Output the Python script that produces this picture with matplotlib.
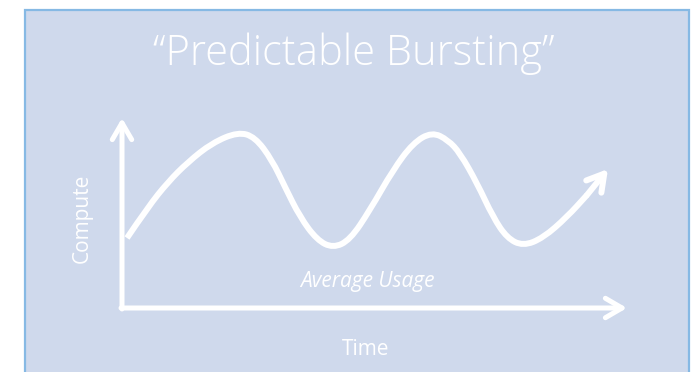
import matplotlib
matplotlib.use("Agg")
import matplotlib.pyplot as plt
from matplotlib.patches import Rectangle, PathPatch
from matplotlib.path import Path

# curve: time vs compute (axis units, origin at the corner)
time = [5, 26, 46, 66, 90, 116, 133, 150, 163, 178, 195, 211, 228, 248, 271,
        291, 310, 326, 338, 355, 371, 385, 401, 421, 445, 465, 486]
compute = [70, 101, 126, 146, 165, 176, 171, 148, 121, 91, 68, 60, 68, 98, 138,
           165, 176, 168, 155, 125, 91, 70, 62, 70, 91, 113, 139]

title = "\u201cPredictable Bursting\u201d"
xlabel = "Time"
ylabel = "Compute"
note = "Average Usage"

bg = "#cfd9ec"
edge = "#86b9e4"
fg = "white"
font = "Open Sans"

W, H = 695, 372
fig = plt.figure(figsize=(W / 100, H / 100), dpi=100)
fig.patch.set_facecolor("white")

# the panel behind everything
back = fig.add_axes([0, 0, 1, 1])
back.set_xlim(0, W)
back.set_ylim(H, 0)
back.axis("off")
back.add_patch(Rectangle((25, 10), 664, 380, facecolor=bg, edgecolor=edge, lw=1.6))

back.text(354, 65, title, color=fg, fontsize=30, family=font, weight="light",
          ha="center", va="baseline")
back.text(366, 355, xlabel, color=fg, fontsize=15, family=font, ha="center", va="baseline")
back.text(82, 218, ylabel, color=fg, fontsize=15, family=font, rotation=90,
          ha="center", va="center")
back.text(367, 287, note, color=fg, fontsize=15, family=font, style="italic",
          ha="center", va="baseline")

# chart area: origin at the corner of the two arrows
ax = fig.add_axes([122 / W, (H - 308) / H, 505 / W, 190 / H])
ax.set_xlim(0, 505)
ax.set_ylim(0, 190)
ax.axis("off")
ax.patch.set_alpha(0)

arrow = dict(arrowstyle="->,head_length=0.6,head_width=0.35", color=fg, lw=3.6,
             mutation_scale=20, shrinkA=0, shrinkB=0, capstyle="round",
             joinstyle="round")
ax.annotate("", xy=(505, 0), xytext=(-1, 0), arrowprops=arrow, annotation_clip=False)
ax.annotate("", xy=(0, 190), xytext=(0, -1), arrowprops=arrow, annotation_clip=False)

# smooth the read points with quadratic beziers through the midpoints
pts = list(zip(time, compute))
verts = [pts[0]]
codes = [Path.MOVETO]
for i in range(1, len(pts) - 2):
    mid = ((pts[i][0] + pts[i + 1][0]) / 2, (pts[i][1] + pts[i + 1][1]) / 2)
    verts += [pts[i], mid]
    codes += [Path.CURVE3, Path.CURVE3]
verts += [pts[-2]]
codes += [Path.LINETO]
ax.add_patch(PathPatch(Path(verts, codes), facecolor="none", edgecolor=fg, lw=4.3,
                       capstyle="butt", joinstyle="round"))
tip = dict(arrow, lw=4.3)
ax.annotate("", xy=pts[-1], xytext=pts[-2], arrowprops=tip, annotation_clip=False)

fig.savefig("out.png", dpi=100, facecolor=fig.get_facecolor())
